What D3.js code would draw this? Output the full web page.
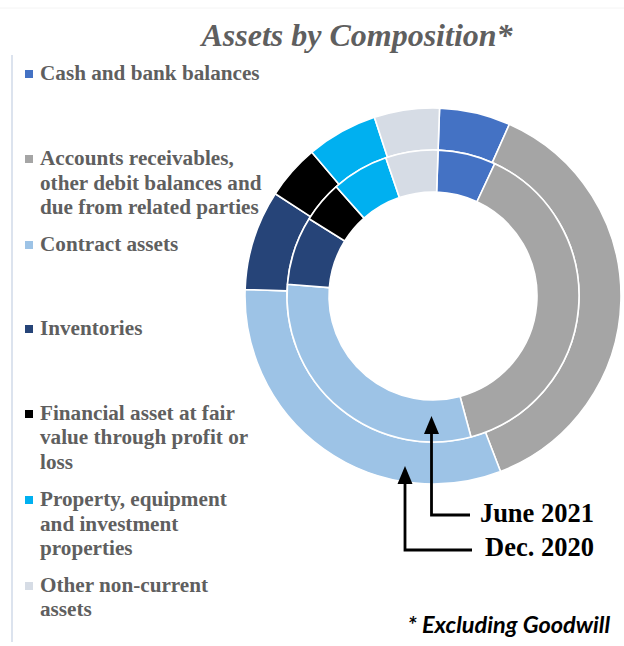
<!DOCTYPE html>
<html>
<head>
<meta charset="utf-8">
<script src="https://cdn.jsdelivr.net/npm/d3@7"></script>
<style>
  html, body { margin: 0; padding: 0; background: #ffffff; }
  svg { display: block; }
</style>
</head>
<body>
<svg id="chart" width="624" height="646"></svg>
<script>
// ---- Data (percent of total assets, excluding goodwill) ----
const categories = [
  "Cash and bank balances",
  "Accounts receivables, other debit balances and due from related parties",
  "Contract assets",
  "Inventories",
  "Financial asset at fair value through profit or loss",
  "Property, equipment and investment properties",
  "Other non-current assets"
];
const legendLines = [
  ["Cash and bank balances"],
  ["Accounts receivables,", "other debit balances and", "due from related parties"],
  ["Contract assets"],
  ["Inventories"],
  ["Financial asset at fair", "value through profit or", "loss"],
  ["Property, equipment", "and investment", "properties"],
  ["Other non-current", "assets"]
];
const dec2020 = [6.1, 37.5, 31.4, 8.6, 4.7, 6.1, 5.6];   // outer ring
const jun2021 = [6.4, 38.9, 30.5, 7.6, 4.6, 6.3, 5.8];   // inner ring
const seriesLabels = ["June 2021", "Dec. 2020"];
const colors = ["#4472C4", "#A5A5A5", "#9DC3E6", "#264478", "#000000", "#00B0F0", "#D6DCE5"];

const svg = d3.select("#chart");
const W = 624, H = 646;

// Frame lines
svg.append("line").attr("x1", 12).attr("x2", 12).attr("y1", 55).attr("y2", 642)
  .attr("stroke", "#DCE3EE").attr("stroke-width", 2);
svg.append("line").attr("x1", 0).attr("x2", W).attr("y1", 8).attr("y2", 8)
  .attr("stroke", "#F4F4F4").attr("stroke-width", 1);

// Title
svg.append("text")
  .attr("x", 357).attr("y", 46)
  .attr("text-anchor", "middle")
  .attr("font-family", "'Liberation Serif', 'Times New Roman', serif")
  .attr("font-weight", "bold").attr("font-style", "italic")
  .attr("font-size", 32).attr("fill", "#5F5F5F")
  .text("Assets by Composition*");

// Doughnut
const cx = 433, cy = 296;
const color = d3.scaleOrdinal().domain(categories).range(colors);
const startOff = 2 * Math.PI / 180;
const pie = d3.pie().sort(null).value(d => d.v)
  .startAngle(startOff).endAngle(startOff + 2 * Math.PI);

const rings = [
  { values: dec2020, r0: 146, r1: 188 },
  { values: jun2021, r0: 104, r1: 146 }
];
const g = svg.append("g").attr("transform", `translate(${cx},${cy})`);
rings.forEach(ring => {
  const arc = d3.arc().innerRadius(ring.r0).outerRadius(ring.r1);
  const data = categories.map((c, i) => ({ c, v: ring.values[i] }));
  g.append("g").selectAll("path")
    .data(pie(data))
    .join("path")
    .attr("d", arc)
    .attr("fill", d => color(d.data.c))
    .attr("stroke", "#ffffff")
    .attr("stroke-width", 1.6)
    .attr("stroke-linejoin", "round");
});

// Legend
const baselines = [[80], [165, 190, 214], [251], [335], [420, 444, 469], [506, 531, 555], [592, 616]];
const lg = svg.append("g");
categories.forEach((c, i) => {
  const b0 = baselines[i][0];
  lg.append("rect").attr("x", 25).attr("y", b0 - 10).attr("width", 8).attr("height", 8)
    .attr("fill", color(c));
  legendLines[i].forEach((line, j) => {
    lg.append("text")
      .attr("x", 40).attr("y", baselines[i][j])
      .attr("font-family", "'Liberation Serif', 'Times New Roman', serif")
      .attr("font-weight", "bold").attr("font-size", 21.2)
      .attr("fill", "#5F5F5F")
      .text(line);
  });
});

// Arrows and series labels
const ann = svg.append("g");
function arrow(x, tipY, baseY, cornerY, endX, label, labelY) {
  ann.append("path")
    .attr("d", `M${endX},${cornerY} H${x} V${baseY}`)
    .attr("fill", "none").attr("stroke", "#000").attr("stroke-width", 2.8);
  ann.append("path")
    .attr("d", `M${x},${tipY} L${x - 7.5},${baseY + 1} L${x + 7.5},${baseY + 1} Z`)
    .attr("fill", "#000");
  ann.append("text")
    .attr("x", 594).attr("y", labelY)
    .attr("text-anchor", "end")
    .attr("font-family", "'Liberation Serif', 'Times New Roman', serif")
    .attr("font-weight", "bold").attr("font-size", 26.5)
    .attr("fill", "#000")
    .text(label);
}
arrow(431.5, 416, 433, 515, 470, seriesLabels[0], 522);
arrow(405, 466, 483, 550, 472, seriesLabels[1], 556);

// Footnote
svg.append("text")
  .attr("x", 610).attr("y", 633)
  .attr("text-anchor", "end")
  .attr("font-family", "Lato, 'Open Sans', sans-serif")
  .attr("font-weight", "bold").attr("font-style", "italic")
  .attr("font-size", 23.5).attr("fill", "#000")
  .text("* Excluding Goodwill");
</script>
</body>
</html>
